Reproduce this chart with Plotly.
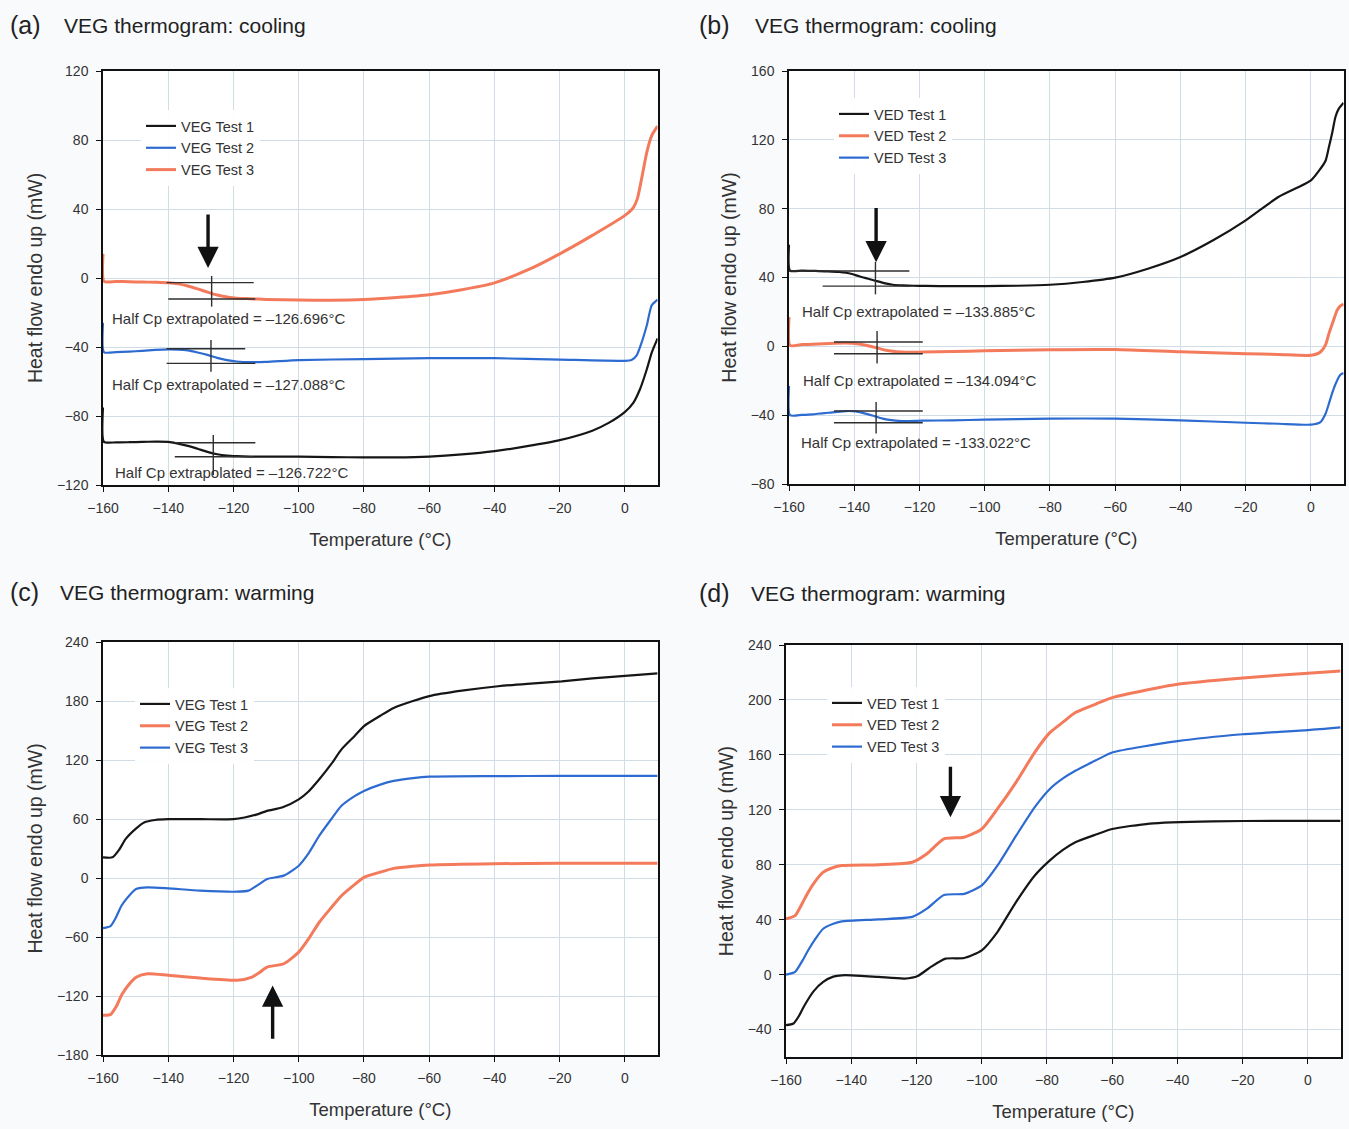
import plotly.graph_objects as go

W, H = 1349, 1129
FONT = "Liberation Sans, Arial, Helvetica, sans-serif"

BLACK = "#161616"
BLUE = "#2d6bd1"
ORANGE = "#f47a5c"
GRID = "#d0dde7"

# ---------------- Panel (a): VEG cooling ----------------
a_t1_x = [-160, -159.7, -156, -152, -148, -144, -140, -137, -134, -131, -128, -125, -122, -119, -115, -110,
          -100, -90, -80, -70, -60, -50, -40, -30, -20, -10, -5, 0, 2.6, 4.6, 6.7, 8.2, 10]
a_t1_y = [-75, -95, -95.3, -95.2, -95, -94.9, -95, -96, -97.3, -99, -100.8, -102.2, -103, -103.3, -103.5, -103.6,
          -103.6, -103.8, -104, -104, -103.5, -102.3, -100.4, -97.5, -94, -88.5, -84, -77.6, -72.2, -64.5, -52.9, -43.2, -35]

a_t2_x = [-160, -159.7, -156, -152, -148, -144, -140, -137, -134, -131, -128, -125, -122, -119, -115, -110,
          -100, -80, -60, -40, -20, 0, 2, 3.6, 5, 6.7, 8.2, 10]
a_t2_y = [-26, -43, -43, -42.7, -42.2, -41.7, -41.4, -41.5, -42, -43.2, -44.6, -46.3, -47.6, -48.4, -48.8, -48.6,
          -47.6, -47, -46.5, -46.5, -47.3, -48, -47.5, -44.8, -38, -27.4, -15.8, -12.5]

a_t3_x = [-160, -159.7, -156, -152, -148, -144, -140, -137, -134, -131, -128, -125, -122, -119, -115, -110,
          -100, -90, -80, -70, -60, -50, -40, -30, -20, -10, 0, 2.6, 3.8, 5.1, 6.7, 8.2, 10]
a_t3_y = [14, -2, -2, -2.2, -2.3, -2.5, -2.8, -3.4, -4.6, -6.3, -8.2, -9.9, -11, -11.7, -12, -12.4,
          -12.8, -12.9, -12.5, -11.3, -9.7, -6.8, -2.8, 4.5, 14, 24.7, 36.3, 41, 46, 57.5, 73, 82.6, 88]

# ---------------- Panel (b): VED cooling ----------------
b_t1_x = [-160, -159.7, -156, -152, -148, -144.6, -141, -138.5, -136, -133.3, -130.5, -128.2, -125, -122, -118, -110,
          -100, -90, -80, -70, -60, -50, -40, -30, -20, -10, 0, 2.9, 4.5, 5.5, 6.5, 7.5, 8.5, 10]
b_t1_y = [59, 44, 44, 43.8, 43.6, 43.2, 42.2, 40.7, 39.4, 38, 36.6, 35.8, 35.4, 35.2, 35.1, 35,
          35, 35.2, 35.8, 37.4, 39.9, 45.1, 51.9, 61.6, 73.2, 86.8, 96.5, 103.2, 108, 115.8, 124, 133.3, 138, 141.5]

b_t2_x = [-160, -159.7, -156, -152.8, -146, -142.6, -139, -136.4, -133, -130.3, -127, -124.1, -119, -110,
          -100, -80, -60, -40, -20, -10, 0, 2.9, 4.5, 5.5, 6.7, 8, 9, 10]
b_t2_y = [17, 0.5, 1, 1.2, 1.8, 1.9, 1.5, 0.6, -0.9, -2.3, -3.2, -3.5, -3.3, -3,
          -2.6, -2, -1.9, -3.2, -4.3, -4.7, -5.2, -3.3, 1, 7.4, 14, 20.9, 23.5, 24.5]

b_t3_x = [-160, -159.7, -156, -152.8, -146, -142.6, -139.5, -137.4, -134.5, -131.3, -128, -125.1, -119, -110,
          -100, -80, -60, -40, -20, -10, 0, 2.9, 4.5, 5.5, 6.7, 8, 9, 10]
b_t3_y = [-23, -40, -39.8, -39.5, -38.2, -37.6, -37.8, -38.7, -40.2, -42, -43, -43.4, -43.2, -43,
          -42.6, -42, -42, -43, -44.4, -45, -45.5, -44, -39, -33.3, -26, -19.8, -16.5, -15.5]

# ---------------- Panel (c): VEG warming ----------------
c_t1_x = [-160, -157.1, -155, -153.1, -150, -147.4, -144, -140, -130, -120, -116.6, -113, -109.7, -105.1, -100,
          -97, -93.7, -90, -86.9, -83, -80, -75, -70.9, -65, -60, -50, -38.9, -30, -19.4, -10, 0, 10]
c_t1_y = [21, 21, 29, 39.5, 50, 56.5, 59, 59.8, 59.8, 59.8, 61.5, 64.5, 68.3, 71.7, 80,
          88, 100.4, 116, 130.8, 144, 154.5, 165, 173, 180, 185, 190.5, 195, 197.5, 200, 203, 205.5, 208]

c_t2_x = [-160, -157.7, -156, -154.3, -152, -149.7, -146.3, -140, -130.3, -118.9, -114.3, -112, -109.7, -104.6, -100,
          -97, -93.7, -90, -86.9, -83, -80, -75, -70.9, -65, -60, -40, -20, 0, 10]
c_t2_y = [-139.6, -139, -131, -119, -108, -100.7, -97.4, -99, -101.8, -104, -100.7, -96, -90.6, -87.2, -75.4,
          -62, -45, -30, -18, -7, 0.7, 6, 9.8, 12, 13.2, 14.5, 14.9, 14.9, 14.9]

c_t3_x = [-160, -157.7, -156, -154.3, -152, -149.7, -146.3, -140, -130.3, -118.9, -115.4, -112, -109.7, -104.6, -100,
          -97, -93.7, -90, -86.9, -83, -80, -75, -70.9, -65, -60, -40, -20, 0, 10]
c_t3_y = [-51, -49, -40, -28, -18, -11, -9.5, -10.5, -12.8, -13.9, -12.8, -6, -1, 2.4, 12.5,
          25, 43, 60, 73.4, 83, 88.6, 95, 98.7, 101.5, 103, 103.6, 103.8, 103.8, 103.8]

# ---------------- Panel (d): VED warming ----------------
d_t1_x = [-160, -157.7, -156, -154.3, -151.5, -148.6, -145.5, -142.9, -140, -131.6, -123.6, -119.6, -115.6, -111.1,
          -105.4, -100, -95.2, -89.5, -83.8, -79.2, -75, -71.3, -65, -60, -48.5, -29.2, -10, 10]
d_t1_y = [-36.8, -35.6, -30, -22.3, -12, -5.3, -1.5, -0.5, -0.5, -1.7, -2.9, -1, 5.6, 11.6,
          12.1, 17.7, 31, 52.8, 72, 83, 91, 96.4, 102, 106, 110, 111.6, 112, 112]

d_t2_x = [-160, -157.2, -155, -153.2, -151, -148.6, -145.5, -142.9, -131.6, -121.3, -116.8, -111.6, -105.4, -100,
          -95.2, -89.5, -83.8, -79.2, -75, -71.3, -65, -60, -40, -20, 0, 10]
d_t2_y = [40.7, 43, 52, 60, 68, 74.6, 78, 79.4, 80, 81.8, 88, 98.8, 100, 106,
          120.6, 140, 161.7, 176, 184, 190.8, 197, 201.7, 211.4, 216, 219.5, 221]

d_t3_x = [-160, -157.2, -155, -153.2, -151, -148.6, -145.5, -142.9, -131.6, -121.3, -116.8, -111.6, -105.4, -100,
          -95.2, -89.5, -83.8, -79.2, -75, -71.3, -65, -60, -40, -20, 0, 10]
d_t3_y = [0, 2, 10, 17.7, 26, 33.4, 37, 38.7, 40.2, 42, 48, 58, 58.8, 65,
          79.4, 101, 121.8, 135, 143, 148.4, 156, 161.7, 170, 175, 178, 180]

# ---------------- Half-Cp construction lines (baseline extrapolations) ----------------
# each entry: (upper baseline t-range, upper value, lower t-range, lower value, midpoint t, vertical v-range)
a_cross = [
    ([-140.5, -113.8], -2.7, [-140, -113.3], -12.2, -126.7, [1.2, -16.6]),
    ([-140.5, -116.4], -41.0, [-140.5, -113.3], -49.5, -126.9, [-35.9, -54.3]),
    ([-138, -113.3], -95.5, [-138, -113.8], -103.6, -126.2, [-91, -114.2]),
]
b_cross = [
    ([-160, -123.1], 43.8, [-149.7, -123.1], 35.0, -133.5, [49, 30.2]),
    ([-146.2, -119], 2.5, [-146.2, -119], -4.3, -133.0, [8.9, -10]),
    ([-146.2, -119], -37.6, [-146.2, -119], -44.4, -133.3, [-32.3, -50.7]),
]
a_labels = ["Half Cp extrapolated = \u2013126.696\u00b0C",
            "Half Cp extrapolated = \u2013127.088\u00b0C",
            "Half Cp extrapolated = \u2013126.722\u00b0C"]
a_label_pos = [(-157.9, -23.2), (-157.9, -61.7), (-156.9, -112.5)]
b_labels = ["Half Cp extrapolated = \u2013133.885\u00b0C",
            "Half Cp extrapolated = \u2013134.094\u00b0C",
            "Half Cp extrapolated = -133.022\u00b0C"]
b_label_pos = [(-156.6, 20.3), (-156.3, -19.8), (-156.9, -55.8)]

# arrows: (tip t, tip v, tail v)
arrows = {"a": (-127.8, 5.8, 37.7), "b": (-133.3, 48.8, 81.3),
          "c": (-108.0, -109.2, -165.0), "d": (-109.6, 114.5, 152.5)}

# ---------------- layout geometry (page pixels) ----------------
panels = {
    "a": dict(x=(103, 657.6), y=(71, 485), yr=[-120, 120], t0=-120, dt=40, xa="x", ya="y", lg="legend"),
    "b": dict(x=(789, 1343.6), y=(71, 484), yr=[-80, 160], t0=-80, dt=40, xa="x2", ya="y2", lg="legend2"),
    "c": dict(x=(103, 657.6), y=(642, 1055), yr=[-180, 240], t0=-180, dt=60, xa="x3", ya="y3", lg="legend3"),
    "d": dict(x=(786, 1340.6), y=(645, 1057), yr=[-60, 240], t0=-40, dt=40, xa="x4", ya="y4", lg="legend4"),
}


def px(x):
    return x / W


def py(y):
    return 1 - y / H


fig = go.Figure()

series = {
    "a": [("VEG Test 1", a_t1_x, a_t1_y, BLACK, 2.2), ("VEG Test 2", a_t2_x, a_t2_y, BLUE, 2.2),
          ("VEG Test 3", a_t3_x, a_t3_y, ORANGE, 3.0)],
    "b": [("VED Test 1", b_t1_x, b_t1_y, BLACK, 2.2), ("VED Test 2", b_t2_x, b_t2_y, ORANGE, 3.0),
          ("VED Test 3", b_t3_x, b_t3_y, BLUE, 2.2)],
    "c": [("VEG Test 1", c_t1_x, c_t1_y, BLACK, 2.2), ("VEG Test 2", c_t2_x, c_t2_y, ORANGE, 3.0),
          ("VEG Test 3", c_t3_x, c_t3_y, BLUE, 2.2)],
    "d": [("VED Test 1", d_t1_x, d_t1_y, BLACK, 2.2), ("VED Test 2", d_t2_x, d_t2_y, ORANGE, 3.0),
          ("VED Test 3", d_t3_x, d_t3_y, BLUE, 2.2)],
}

for key, lst in series.items():
    p = panels[key]
    for name, xs, ys, col, wd in lst:
        fig.add_trace(go.Scatter(x=xs, y=ys, mode="lines", name=name,
                                 line=dict(color=col, width=wd, shape="spline", smoothing=0.6),
                                 xaxis=p["xa"], yaxis=p["ya"], legend=p["lg"]))

for key, crosses in (("a", a_cross), ("b", b_cross)):
    p = panels[key]
    cx, cy = [], []
    for up_r, up_v, lo_r, lo_v, mid_t, vr in crosses:
        cx += [up_r[0], up_r[1], None, lo_r[0], lo_r[1], None, mid_t, mid_t, None]
        cy += [up_v, up_v, None, lo_v, lo_v, None, vr[0], vr[1], None]
    fig.add_trace(go.Scatter(x=cx, y=cy, mode="lines", showlegend=False, hoverinfo="skip",
                             line=dict(color="#2e2e2e", width=1.4),
                             xaxis=p["xa"], yaxis=p["ya"]))

annotations = []
for key, labels, pos in (("a", a_labels, a_label_pos), ("b", b_labels, b_label_pos)):
    p = panels[key]
    for txt, (tx, ty) in zip(labels, pos):
        annotations.append(dict(text=txt, x=tx, y=ty, xref=p["xa"], yref=p["ya"], showarrow=False,
                                xanchor="left", yanchor="middle",
                                font=dict(size=15, color="#333333", family=FONT)))

for key, (at, tip, tail) in arrows.items():
    p = panels[key]
    annotations.append(dict(x=at, y=tip, ax=at, ay=tail, xref=p["xa"], yref=p["ya"],
                            axref=p["xa"], ayref=p["ya"], text="", showarrow=True,
                            arrowhead=2, arrowsize=1.25, arrowwidth=3.4, arrowcolor="#111111"))

titles = [("(a)", 8, 25, "VEG thermogram: cooling", 62),
          ("(b)", 697, 25, "VEG thermogram: cooling", 753),
          ("(c)", 8, 592, "VEG thermogram: warming", 58),
          ("(d)", 697, 593, "VEG thermogram: warming", 749)]
for lab, lx, ly, txt, tx in titles:
    annotations.append(dict(text=lab, x=px(lx), y=py(ly), xref="paper", yref="paper", showarrow=False,
                            xanchor="left", yanchor="middle", font=dict(size=25, color="#222222", family=FONT)))
    annotations.append(dict(text=txt, x=px(tx), y=py(ly), xref="paper", yref="paper", showarrow=False,
                            xanchor="left", yanchor="middle", font=dict(size=21, color="#222222", family=FONT)))

layout = dict(width=W, height=H, autosize=False, margin=dict(l=0, r=0, t=0, b=0, pad=0),
              paper_bgcolor="#f9fafc", plot_bgcolor="#ffffff",
              font=dict(family=FONT, color="#333333"),
              annotations=annotations, hovermode=False)

# legend top-left corners in page pixels
legend_pos = {"a": (141, 110), "b": (834, 98), "c": (135, 688), "d": (827, 687)}

for i, key in enumerate(["a", "b", "c", "d"]):
    p = panels[key]
    sfx = "" if i == 0 else str(i + 1)
    layout["xaxis" + sfx] = dict(
        domain=[px(p["x"][0]), px(p["x"][1])], range=[-160, 10], tick0=-160, dtick=20,
        anchor="y" + sfx, automargin=False, showgrid=True, gridcolor=GRID, gridwidth=1, zeroline=False,
        showline=True, linecolor="#111111", linewidth=1.5, mirror=True,
        ticks="outside", ticklen=5, tickcolor="#111111", tickwidth=1, ticklabelstandoff=4,
        tickfont=dict(size=14, color="#333333"),
        title=dict(text="Temperature (\u00b0C)", font=dict(size=18.5, color="#333333"), standoff=19))
    layout["yaxis" + sfx] = dict(
        domain=[py(p["y"][1]), py(p["y"][0])], range=p["yr"], tick0=p["t0"], dtick=p["dt"],
        anchor="x" + sfx, automargin=False, showgrid=True, gridcolor=GRID, gridwidth=1, zeroline=False,
        showline=True, linecolor="#111111", linewidth=1.5, mirror=True,
        ticks="outside", ticklen=5, tickcolor="#111111", tickwidth=1, ticklabelstandoff=5,
        tickfont=dict(size=14, color="#333333"),
        title=dict(text="Heat flow endo up (mW)", font=dict(size=19.5, color="#333333"), standoff=9))
    lx, ly = legend_pos[key]
    layout[p["lg"]] = dict(x=px(lx), y=py(ly), xanchor="left", yanchor="top",
                           bgcolor="rgba(255,255,255,0.92)", borderwidth=0,
                           font=dict(size=14.5, color="#333333"), itemwidth=30, tracegroupgap=0)

fig.update_layout(**layout)

fig.write_html("out.html", config={"displayModeBar": False},
               post_script="document.body.style.margin='0px';")
